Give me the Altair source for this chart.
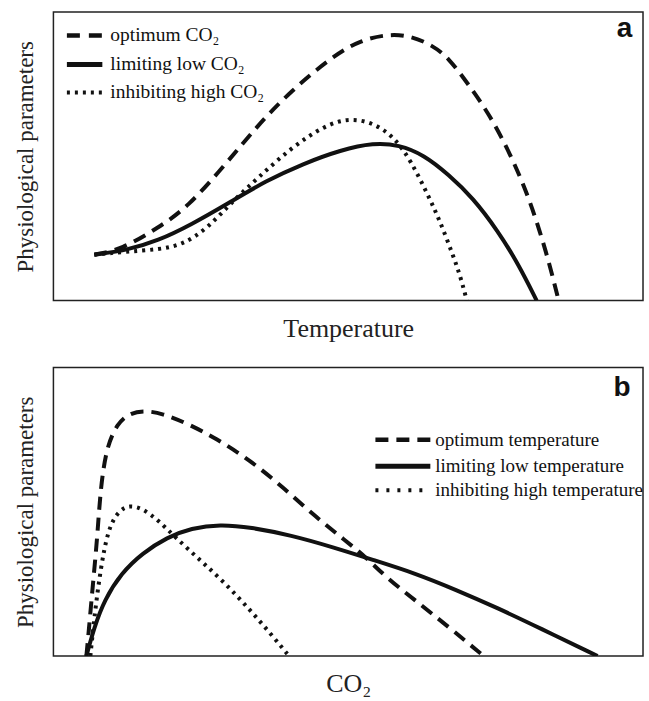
import altair as alt
import pandas as pd

# ---------------- data ----------------
# Panel a: response vs temperature for three CO2 levels
TEMP_OPT_X = [41, 68, 105, 134, 172, 205, 238, 280, 308, 336, 358, 379, 396, 416, 437, 458, 475, 487, 497, 506]
TEMP_OPT_Y = [46, 51, 73, 93, 136, 176, 210, 245, 261, 267, 265, 256, 243, 216, 186, 146, 106, 70, 36, 0]
TEMP_LOW_X = [41, 72, 105, 138, 176, 213, 250, 288, 321, 346, 371, 396, 420, 445, 466, 484]
TEMP_LOW_Y = [46, 50, 60, 76, 98, 120, 137, 151, 158, 156, 146, 126, 103, 70, 36, 0]
TEMP_HIGH_X = [41, 72, 105, 130, 155, 180, 205, 238, 271, 296, 321, 342, 358, 375, 387, 400, 408, 414]
TEMP_HIGH_Y = [46, 49, 51, 56, 73, 100, 123, 153, 175, 183, 178, 163, 140, 106, 80, 46, 23, 0]

# Panel b: response vs CO2 for three temperature levels
CO2_OPT_X = [33, 35.5, 39, 44, 47, 53, 64, 76, 91, 109, 134, 163, 197, 230, 263, 292, 313, 333, 362, 396, 431]
CO2_OPT_Y = [0, 26, 66, 119, 166, 209, 233, 243, 246, 243, 233, 218, 196, 169, 139, 116, 99, 79, 56, 29, 0]
CO2_LOW_X = [33, 41, 51, 68, 89, 114, 138, 167, 197, 238, 280, 321, 362, 404, 445, 487, 545]
CO2_LOW_Y = [0, 29, 56, 83, 103, 119, 128, 132, 129, 121, 109, 96, 83, 66, 48, 28, 0]
CO2_HIGH_X = [37, 41, 47, 55, 66, 76, 89, 105, 122, 147, 172, 197, 217, 236]
CO2_HIGH_Y = [0, 39, 86, 129, 146, 151, 148, 136, 119, 96, 73, 46, 23, 0]

LEGEND_A = ["optimum CO₂", "limiting low CO₂", "inhibiting high CO₂"]
LEGEND_B = ["optimum temperature", "limiting low temperature", "inhibiting high temperature"]

X_DOMAIN = [0, 590.5]
Y_DOMAIN = [0, 289]
W, H = 590.5, 289
INK = "#111111"
SERIF = "Liberation Serif"

STYLES = [
    dict(strokeDash=[13, 8], strokeWidth=4),       # optimum
    dict(strokeWidth=4),                           # limiting (solid)
    dict(strokeDash=[3, 5], strokeWidth=4),        # inhibiting (dotted)
]


def curve(xs, ys, style, xtitle):
    df = pd.DataFrame({"x": xs, "y": ys})
    return alt.Chart(df).mark_line(color=INK, interpolate="basis", clip=True, **style).encode(
        x=alt.X("x:Q", scale=alt.Scale(domain=X_DOMAIN, nice=False, zero=False),
                axis=alt.Axis(title=xtitle, titleFontSize=26, titlePadding=15)),
        y=alt.Y("y:Q", scale=alt.Scale(domain=Y_DOMAIN, nice=False, zero=False),
                axis=alt.Axis(title="Physiological parameters", titleFontSize=23, titlePadding=16)),
    )


def legend(labels, x0, x1, tx, ys, dashes, fontsize):
    layers = []
    for lab, yy, st in zip(labels, ys, dashes):
        one = pd.DataFrame({"label": [lab]})
        layers.append(
            alt.Chart(one).mark_rule(color=INK, **st).encode(
                x=alt.value(x0), x2=alt.value(x1), y=alt.value(yy))
        )
        layers.append(
            alt.Chart(one).mark_text(font=SERIF, fontSize=fontsize, align="left",
                                     baseline="middle", color=INK).encode(
                x=alt.value(tx), y=alt.value(yy), text="label:N")
        )
    return layers


def tag(letter, x, y):
    one = pd.DataFrame({"t": [letter]})
    return alt.Chart(one).mark_text(font="Liberation Sans", fontWeight="bold", fontSize=28,
                                    align="center", baseline="middle", color=INK).encode(
        x=alt.value(x), y=alt.value(y), text="t:N")


panel_a = alt.layer(
    curve(TEMP_OPT_X, TEMP_OPT_Y, STYLES[0], "Temperature"),
    curve(TEMP_LOW_X, TEMP_LOW_Y, STYLES[1], "Temperature"),
    curve(TEMP_HIGH_X, TEMP_HIGH_Y, STYLES[2], "Temperature"),
    *legend(LEGEND_A, 13.5, 49, 57, [23.5, 52.5, 80.5],
            [dict(strokeDash=[13, 9], strokeWidth=4.5), dict(strokeWidth=5),
             dict(strokeDash=[3, 5], strokeWidth=4)], 19.5),
    tag("a", 572, 17.5),
).properties(width=W, height=H)

panel_b = alt.layer(
    curve(CO2_OPT_X, CO2_OPT_Y, STYLES[0], "CO₂"),
    curve(CO2_LOW_X, CO2_LOW_Y, STYLES[1], "CO₂"),
    curve(CO2_HIGH_X, CO2_HIGH_Y, STYLES[2], "CO₂"),
    *legend(LEGEND_B, 322.5, 377.5, 382.5, [72.5, 99, 123],
            [dict(strokeDash=[13, 8], strokeWidth=4.5), dict(strokeWidth=5),
             dict(strokeDash=[3, 8], strokeWidth=4)], 19),
    tag("b", 569.5, 21),
).properties(width=W, height=H)

chart = alt.vconcat(panel_a, panel_b, spacing=67).properties(
    padding={"left": 13.5, "top": 10.5, "right": 5, "bottom": 5},
    bounds="flush",
    background="white",
).configure_view(
    stroke="#222222", strokeWidth=1.5
).configure_axis(
    domain=False, ticks=False, labels=False, grid=False,
    titleFont=SERIF, titleFontWeight="normal", titleColor="#222222",
)

chart.save("out.html", embed_options={"renderer": "svg", "actions": False})
